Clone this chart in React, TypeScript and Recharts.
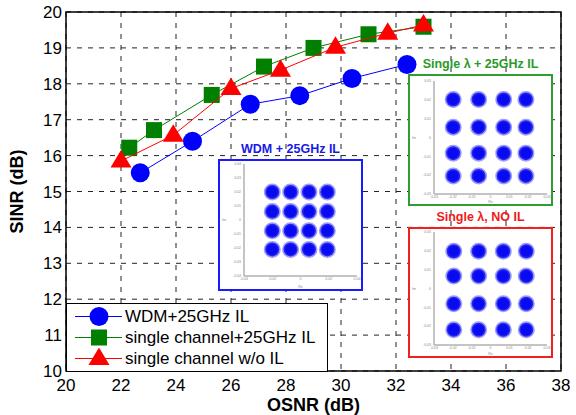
import React from "react";
import {
  ScatterChart,
  Scatter,
  XAxis,
  YAxis,
  CartesianGrid,
  ReferenceArea,
  Legend,
} from "recharts";

// main curves: SINR vs OSNR
const wdmOsnr = [22.7, 24.6, 26.7, 28.5, 30.4, 32.4];
const wdmSinr = [15.52, 16.4, 17.43, 17.67, 18.15, 18.54];

const singleIlOsnr = [22.3, 23.2, 25.3, 27.2, 29.0, 31.0, 33.0];
const singleIlSinr = [16.22, 16.71, 17.69, 18.48, 19.0, 19.38, 19.59];

const singleNoIlOsnr = [22.0, 23.9, 26.0, 27.8, 29.8, 31.7, 33.0];
const singleNoIlSinr = [15.85, 16.57, 17.87, 18.38, 19.02, 19.41, 19.64];

const xTicks = [20, 22, 24, 26, 28, 30, 32, 34, 36, 38];
const yTicks = [10, 11, 12, 13, 14, 15, 16, 17, 18, 19, 20];

const legendNames = [
  "WDM+25GHz IL",
  "single channel+25GHz IL",
  "single channel w/o IL",
];

// constellation cluster centres (I / Q) for the three insets
const wdmI = [-0.02, -0.007, 0.006, 0.019];
const wdmQ = [0.02, 0.006, -0.0077, -0.021];
const singleIlI = [-0.0198, -0.0063, 0.007, 0.0188];
const singleIlQ = [0.0202, 0.0055, -0.0083, -0.0204];
const singleNoIlI = [-0.0195, -0.0063, 0.0068, 0.019];
const singleNoIlQ = [0.0198, 0.0066, -0.0081, -0.0219];

const wdmTicksX = [-0.04, -0.02, 0, 0.02, 0.04];
const wdmTicksY = [-0.04, -0.03, -0.02, -0.01, 0, 0.01, 0.02, 0.03, 0.04];
const singleTicks = [-0.03, -0.02, -0.01, 0, 0.01, 0.02, 0.03];

const BLUE = "#0000ff";
const GREEN = "#007f00";
const RED = "#ff0000";
const FONT = '"Liberation Sans", Arial, sans-serif';

const toPoints = (xs: number[], ys: number[]) =>
  xs.map((x, i) => ({ x, y: ys[i] }));

const grid16 = (is: number[], qs: number[]) =>
  qs.flatMap((q) => is.map((i) => ({ x: i, y: q })));

const CircleMark = (props: any) => (
  <circle cx={props.cx} cy={props.cy} r={9.5} fill={BLUE} />
);
const SquareMark = (props: any) => (
  <rect x={props.cx - 8} y={props.cy - 8} width={16} height={16} fill={GREEN} />
);
const TriangleMark = (props: any) => (
  <polygon
    points={`${props.cx},${props.cy - 11} ${props.cx + 10.5},${props.cy + 6.5} ${props.cx - 10.5},${props.cy + 6.5}`}
    fill={RED}
  />
);

const markers = [
  { color: BLUE, Mark: CircleMark },
  { color: GREEN, Mark: SquareMark },
  { color: RED, Mark: TriangleMark },
];

const LegendBox = () => (
  <div
    style={{
      width: 262,
      height: 69,
      boxSizing: "border-box",
      border: "1.5px solid #000",
      background: "#fff",
      paddingTop: 2,
      fontFamily: FONT,
    }}
  >
    {legendNames.map((name, i) => {
      const { color, Mark } = markers[i];
      return (
        <div
          key={name}
          style={{ display: "flex", alignItems: "center", height: 21 }}
        >
          <svg width={58} height={21} style={{ flex: "none" }}>
            <line x1={8} x2={55} y1={10.5} y2={10.5} stroke={color} strokeWidth={1} />
            <Mark cx={32} cy={10.5} />
          </svg>
          <span style={{ fontSize: 17, color: "#000", whiteSpace: "nowrap" }}>
            {name}
          </span>
        </div>
      );
    })}
  </div>
);

const Blob = (props: any) => (
  <circle
    cx={props.cx}
    cy={props.cy}
    r={7}
    fill="#0a0af0"
    stroke="#3b3bf5"
    strokeWidth={3}
    strokeOpacity={0.5}
  />
);

type InsetProps = {
  left: number;
  top: number;
  width: number;
  height: number;
  color: string;
  title: string;
  titleColor: string;
  points: { x: number; y: number }[];
  domain: [number, number];
  ticksX: number[];
  ticksY: number[];
  margin: { top: number; right: number; bottom: number; left: number };
  xAxisHeight: number;
};

const Inset = ({
  left,
  top,
  width,
  height,
  color,
  title,
  titleColor,
  points,
  domain,
  ticksX,
  ticksY,
  margin,
  xAxisHeight,
}: InsetProps) => (
  <>
    <div
      style={{
        position: "absolute",
        left,
        top: top - 17,
        width,
        textAlign: "center",
        fontFamily: FONT,
        fontWeight: "bold",
        fontSize: 12.5,
        color: titleColor,
        whiteSpace: "nowrap",
      }}
    >
      {title}
    </div>
    <div
      style={{
        position: "absolute",
        left,
        top,
        width,
        height,
        boxSizing: "border-box",
        border: `2px solid ${color}`,
        background: "#fff",
      }}
    >
      <ScatterChart width={width - 4} height={height - 4} margin={margin}>
        <XAxis
          type="number"
          dataKey="x"
          domain={domain}
          ticks={ticksX}
          height={xAxisHeight}
          stroke="#b0b0b0"
          strokeWidth={1.5}
          tickSize={0}
          tickMargin={2}
          tick={{ fontSize: 3.5, fill: "#888" }}
          interval={0}
          label={{ value: "Re", position: "insideBottom", offset: 1, fontSize: 3.5, fill: "#888" }}
        />
        <YAxis
          type="number"
          dataKey="y"
          domain={domain}
          ticks={ticksY}
          width={24}
          stroke="#b0b0b0"
          strokeWidth={1.5}
          tickSize={0}
          tickMargin={3}
          tick={{ fontSize: 3.5, fill: "#888" }}
          interval={0}
          label={{ value: "Im", position: "insideLeft", offset: 2, fontSize: 3.5, fill: "#888" }}
        />
        <Scatter data={points} shape={Blob} isAnimationActive={false} />
      </ScatterChart>
    </div>
  </>
);

export default function App() {
  const series = [
    toPoints(wdmOsnr, wdmSinr),
    toPoints(singleIlOsnr, singleIlSinr),
    toPoints(singleNoIlOsnr, singleNoIlSinr),
  ];

  return (
    <div
      style={{
        position: "absolute",
        left: 0,
        top: 0,
        width: 576,
        height: 415,
        background: "#fff",
        fontFamily: FONT,
      }}
    >
      <ScatterChart
        width={576}
        height={415}
        margin={{ top: 12, right: 15, bottom: 4, left: 0 }}
      >
        <CartesianGrid stroke="#222" strokeDasharray="5 6" strokeWidth={1} />
        <XAxis
          type="number"
          dataKey="x"
          domain={[20, 38]}
          ticks={xTicks}
          interval={0}
          height={40}
          axisLine={false}
          tickLine={false}
          tickSize={0}
          tickMargin={8}
          tick={{ fontSize: 17, fill: "#000" }}
          label={{
            value: "OSNR (dB)",
            position: "insideBottom",
            offset: 0,
            fontSize: 18,
            fontWeight: "bold",
            fill: "#000",
          }}
        />
        <YAxis
          type="number"
          dataKey="y"
          domain={[10, 20]}
          ticks={yTicks}
          interval={0}
          width={66}
          axisLine={false}
          tickLine={false}
          tickSize={0}
          tickMargin={4}
          tick={{ fontSize: 17, fill: "#000" }}
          label={{
            value: "SINR (dB)",
            angle: -90,
            position: "insideLeft",
            offset: 17,
            fontSize: 18,
            fontWeight: "bold",
            fill: "#000",
            style: { textAnchor: "middle" },
          }}
        />
        <ReferenceArea
          x1={20}
          x2={38}
          y1={10}
          y2={20}
          fill="none"
          stroke="#000"
          strokeWidth={1.5}
        />
        {series.map((pts, i) => (
          <Scatter
            key={legendNames[i]}
            name={legendNames[i]}
            data={pts}
            fill={markers[i].color}
            line={{ stroke: markers[i].color, strokeWidth: 1 }}
            shape={markers[i].Mark}
            isAnimationActive={false}
          />
        ))}
        <Legend
          layout="vertical"
          align="center"
          verticalAlign="middle"
          content={() => <LegendBox />}
          wrapperStyle={{ left: 66, top: 303, width: 262, height: 69 }}
        />
      </ScatterChart>

      <Inset
        left={218}
        top={159}
        width={145}
        height={132}
        color="#1a1aff"
        title="WDM + 25GHz IL"
        titleColor="#1a1ae6"
        points={grid16(wdmI, wdmQ)}
        domain={[-0.04, 0.04]}
        ticksX={wdmTicksX}
        ticksY={wdmTicksY}
        margin={{ top: 3, right: 4, bottom: 0, left: 0 }}
        xAxisHeight={13}
      />
      <Inset
        left={408}
        top={74}
        width={145}
        height={132}
        color="#2e9e2e"
        title="Single λ + 25GHz IL"
        titleColor="#2a9a2a"
        points={grid16(singleIlI, singleIlQ)}
        domain={[-0.03, 0.03]}
        ticksX={singleTicks}
        ticksY={singleTicks}
        margin={{ top: 5, right: 4, bottom: 0, left: 0 }}
        xAxisHeight={10}
      />
      <Inset
        left={408}
        top={227}
        width={145}
        height={131}
        color="#f02020"
        title="Single λ, NO IL"
        titleColor="#f01a1a"
        points={grid16(singleNoIlI, singleNoIlQ)}
        domain={[-0.03, 0.03]}
        ticksX={singleTicks}
        ticksY={singleTicks}
        margin={{ top: 3, right: 4, bottom: 0, left: 0 }}
        xAxisHeight={11}
      />
    </div>
  );
}
